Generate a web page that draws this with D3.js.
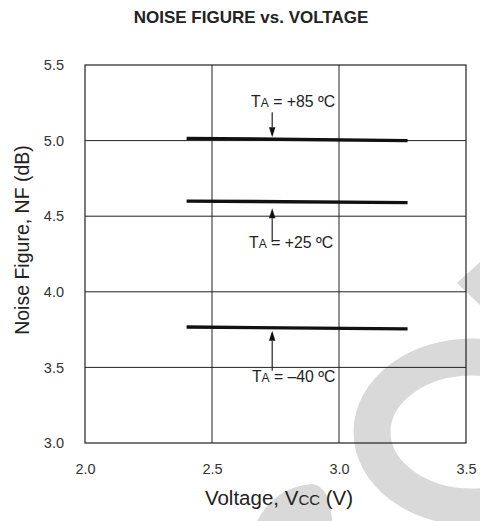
<!DOCTYPE html>
<html>
<head>
<meta charset="utf-8">
<script src="https://cdn.jsdelivr.net/npm/d3@7"></script>
<style>
  html, body { margin: 0; padding: 0; background: #fff; }
  svg { display: block; }
  text { font-family: "Liberation Sans", Arial, Helvetica, sans-serif; }
</style>
</head>
<body>
<svg id="chart" width="480" height="521"></svg>
<script>
// ---- data ----
const xTicks = [2.0, 2.5, 3.0, 3.5];
const yTicks = [3.0, 3.5, 4.0, 4.5, 5.0, 5.5];
const voltage = [2.4, 3.27];
const nf85 = [5.015, 5.000];
const nf25 = [4.600, 4.590];
const nfm40 = [3.767, 3.755];
const seriesNames = ["+85", "+25", "\u201340"];
// annotation anchors in data units: arrow x, arrow tail, arrow tip, label x, label baseline
const arrowX = [2.737, 2.737, 2.737];
const arrowTail = [5.187, 4.330, 3.478];
const arrowTip = [5.022, 4.553, 3.742];
const labelX = [2.654, 2.646, 2.657];
const labelY = [5.220, 4.288, 3.403];

const svg = d3.select("#chart");
const x = d3.scaleLinear().domain([2.0, 3.5]).range([85, 466]);
const y = d3.scaleLinear().domain([3.0, 5.5]).range([443, 65]);

// watermark (decorative, behind chart)
const wm = svg.append("g").attr("fill", "#d9d9d9");
wm.append("ellipse").attr("cx", 472).attr("cy", 432).attr("rx", 100).attr("ry", 75)
  .attr("fill", "none").attr("stroke", "#d9d9d9").attr("stroke-width", 37);
wm.append("path").attr("d", "M457,283 L480,262 L480,305 Z");
wm.append("path").attr("d", "M257,521 Q275,487 312,484 Q330,486 332,521 Z");

// grid
const g = svg.append("g");
g.selectAll("line.v").data(xTicks.slice(1, -1)).enter().append("line")
  .attr("x1", d => x(d)).attr("x2", d => x(d)).attr("y1", y(5.5)).attr("y2", y(3.0))
  .attr("stroke", "#222").attr("stroke-width", 1);
g.selectAll("line.h").data(yTicks.slice(1, -1)).enter().append("line")
  .attr("x1", x(2.0)).attr("x2", x(3.5)).attr("y1", d => y(d)).attr("y2", d => y(d))
  .attr("stroke", "#222").attr("stroke-width", 1);
g.append("rect").attr("x", x(2.0)).attr("y", y(5.5))
  .attr("width", x(3.5) - x(2.0)).attr("height", y(3.0) - y(5.5))
  .attr("fill", "none").attr("stroke", "#222").attr("stroke-width", 1.2);

// axes (labels only)
const xAxis = d3.axisBottom(x).tickValues(xTicks).tickFormat(d3.format(".1f")).tickSize(0).tickPadding(21);
const yAxis = d3.axisLeft(y).tickValues(yTicks).tickFormat(d3.format(".1f")).tickSize(0).tickPadding(21);
const gx = svg.append("g").attr("transform", `translate(0,${y(3.0)})`).call(xAxis);
const gy = svg.append("g").attr("transform", `translate(${x(2.0)},0)`).call(yAxis);
[gx, gy].forEach(a => {
  a.select(".domain").remove();
  a.selectAll("text").attr("font-size", 14.5).attr("fill", "#333")
    .style("font-family", '"Liberation Sans", Arial, Helvetica, sans-serif');
});

// series lines
const line = d3.line().x(d => x(d[0])).y(d => y(d[1]));
[nf85, nf25, nfm40].forEach(vals => {
  svg.append("path").datum(voltage.map((v, i) => [v, vals[i]]))
    .attr("d", line).attr("fill", "none").attr("stroke", "#111").attr("stroke-width", 3.4);
});

// annotations
seriesNames.forEach((name, i) => {
  const ax = x(arrowX[i]), ty = y(arrowTail[i]), hy = y(arrowTip[i]);
  const dir = hy > ty ? 1 : -1;
  const headLen = 10, headW = 3.2;
  svg.append("line").attr("x1", ax).attr("x2", ax).attr("y1", ty).attr("y2", hy - dir * headLen)
    .attr("stroke", "#222").attr("stroke-width", 1.2);
  svg.append("path")
    .attr("d", `M${ax},${hy} L${ax - headW},${hy - dir * headLen} L${ax + headW},${hy - dir * headLen} Z`)
    .attr("fill", "#111");
  const t = svg.append("text").attr("x", x(labelX[i])).attr("y", y(labelY[i]))
    .attr("font-size", 15.8).attr("fill", "#222");
  t.append("tspan").text("T");
  t.append("tspan").attr("font-size", 12).text("A");
  t.append("tspan").text(" = " + name + " \u00baC");
});

// titles
svg.append("text").attr("x", 251).attr("y", 23).attr("text-anchor", "middle")
  .attr("font-size", 17).attr("font-weight", "bold").attr("fill", "#222")
  .text("NOISE FIGURE vs. VOLTAGE");

const xt = svg.append("text").attr("x", 279).attr("y", 505).attr("text-anchor", "middle")
  .attr("font-size", 20.5).attr("fill", "#222");
xt.append("tspan").text("Voltage, V");
xt.append("tspan").attr("font-size", 15).text("CC");
xt.append("tspan").text(" (V)");

svg.append("text").attr("transform", "translate(29,240) rotate(-90)").attr("text-anchor", "middle")
  .attr("font-size", 19.5).attr("fill", "#222").text("Noise Figure, NF (dB)");
</script>
</body>
</html>
